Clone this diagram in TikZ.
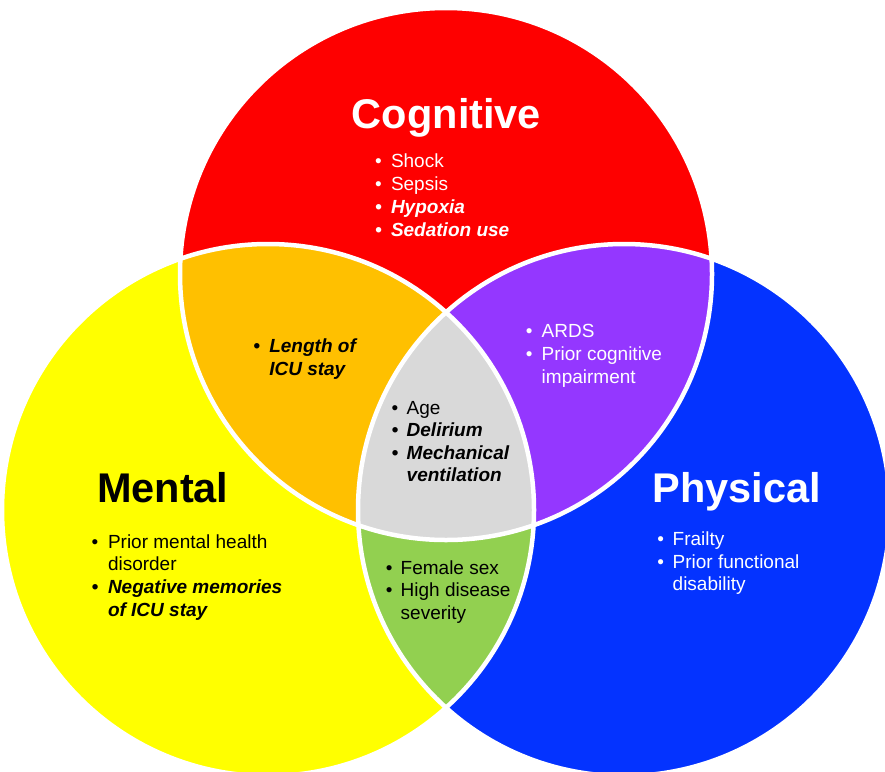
\documentclass[tikz,border=0pt]{standalone}
\usepackage{fontspec}
\setmainfont{Liberation Sans}
\definecolor{cred}{HTML}{FE0000}
\definecolor{cyellow}{HTML}{FFFF00}
\definecolor{cblue}{HTML}{0433FF}
\definecolor{corange}{HTML}{FFC000}
\definecolor{cpurple}{HTML}{9437FF}
\definecolor{cgreen}{HTML}{92D050}
\definecolor{cgray}{HTML}{D9D9D9}
\newcommand\bitem[6]{%
  \node[txt,#5,anchor=base] (#1-b) at (#2,#4) {\textbullet};
  \node[txt,#5,anchor=base west] (#1) at (#3,#4) {#6};}
\newcommand\bline[5]{\node[txt,#4,anchor=base west] (#1) at (#2,#3) {#5};}
\begin{document}
\begin{tikzpicture}[x=1pt,y=-1pt,
  txt/.style={inner sep=0pt,outer sep=0pt,font=\fontsize{19}{23}\selectfont},
  ttl/.style={inner sep=0pt,outer sep=0pt,font=\fontsize{41.5}{48}\selectfont\bfseries},
  wt/.style={text=white},
  bk/.style={text=black},
  bi/.style={font=\fontsize{19}{23}\selectfont\bfseries\itshape},
  outline/.style={draw=white,line width=4.5pt}]
\useasboundingbox (0,0) rectangle (885,771);
\fill[white] (0,0) rectangle (885,771);
% base circles
\fill[cred] (446,274) circle[radius=266pt];
\fill[cyellow] (268,510) circle[radius=266pt];
\fill[cblue] (624,510) circle[radius=266pt];
% pairwise overlaps
\begin{scope}
  \clip (446,274) circle[radius=266pt];
  \fill[corange] (268,510) circle[radius=266pt];
  \fill[cpurple] (624,510) circle[radius=266pt];
\end{scope}
\begin{scope}
  \clip (268,510) circle[radius=266pt];
  \fill[cgreen] (624,510) circle[radius=266pt];
\end{scope}
\begin{scope}
  \clip (446,274) circle[radius=266pt];
  \clip (268,510) circle[radius=266pt];
  \fill[cgray] (624,510) circle[radius=266pt];
\end{scope}
% white outlines
\draw[outline] (446,274) circle[radius=266pt];
\draw[outline] (268,510) circle[radius=266pt];
\draw[outline] (624,510) circle[radius=266pt];
% titles
\node[ttl,wt,anchor=base] (tcog) at (446.5,128) {Cognitive};
\node[ttl,bk,anchor=base west] (tmen) at (97,502) {Mental};
\node[ttl,wt,anchor=base west] (tphy) at (652.5,502) {Physical};
% cognitive
\bitem{c1}{378.5}{391}{167.5}{wt}{Shock}
\bitem{c2}{378.5}{391}{190.5}{wt}{Sepsis}
\bitem{c3}{378.5}{391}{213.5}{wt,bi}{Hypoxia}
\bitem{c4}{378.5}{391}{236.5}{wt,bi}{Sedation use}
% orange
\bitem{o1}{256.7}{269.3}{352.7}{bk,bi}{Length of}
\bline{o2}{269.3}{375.7}{bk,bi}{ICU stay}
% purple
\bitem{p1}{529.3}{541.7}{337.5}{wt}{ARDS}
\bitem{p2}{529.3}{541.7}{360.5}{wt}{Prior cognitive}
\bline{p3}{541.7}{383.5}{wt}{impairment}
% gray
\bitem{g1}{395}{406.7}{414}{bk}{Age}
\bitem{g2}{395}{406.7}{436.7}{bk,bi}{Delirium}
\bitem{g3}{395}{406.7}{459.3}{bk,bi}{Mechanical}
\bline{g4}{406.7}{481.7}{bk,bi}{ventilation}
% green
\bitem{n1}{389.3}{400.7}{574.3}{bk}{Female sex}
\bitem{n2}{389.3}{400.7}{596.7}{bk}{High disease}
\bline{n3}{400.7}{619}{bk}{severity}
% mental
\bitem{m1}{95}{108}{548}{bk}{Prior mental health}
\bline{m2}{108}{570.7}{bk}{disorder}
\bitem{m3}{95}{108}{593.3}{bk,bi}{Negative memories}
\bline{m4}{108}{616.7}{bk,bi}{of ICU stay}
% physical
\bitem{h1}{660.7}{672.7}{545}{wt}{Frailty}
\bitem{h2}{660.7}{672.7}{568}{wt}{Prior functional}
\bline{h3}{672.7}{590.7}{wt}{disability}
\end{tikzpicture}
\end{document}
